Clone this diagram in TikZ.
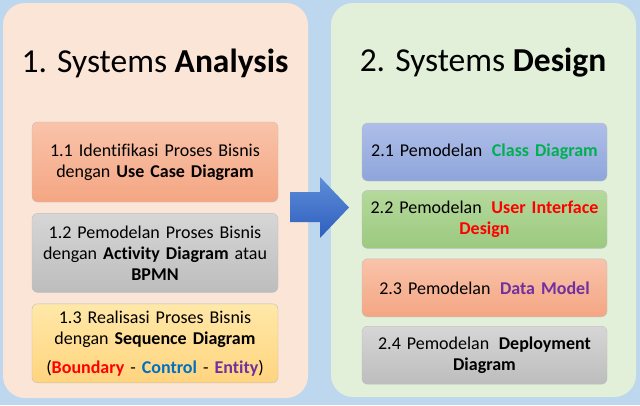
\documentclass[tikz,border=0pt]{standalone}
\usepackage{fontspec}
\setmainfont{Carlito}[Ligatures=NoCommon]
\usetikzlibrary{positioning}

\definecolor{skyback}{HTML}{BDD7EE}
\definecolor{peachpanel}{HTML}{FBE5D6}
\definecolor{mintpanel}{HTML}{E2F0D9}
\definecolor{salmontop}{HTML}{F9C3AA}
\definecolor{salmonbot}{HTML}{F4A683}
\definecolor{greytop}{HTML}{D6D6D6}
\definecolor{greybot}{HTML}{BDBDBD}
\definecolor{goldtop}{HTML}{FFE8A8}
\definecolor{goldbot}{HTML}{FFD47E}
\definecolor{bluetop}{HTML}{AEBEE8}
\definecolor{bluebot}{HTML}{8EA5DB}
\definecolor{greentop}{HTML}{B5D99C}
\definecolor{greenbot}{HTML}{9CC97F}
\definecolor{arrowtop}{HTML}{5E8DD8}
\definecolor{arrowbot}{HTML}{2E5EBE}
\definecolor{okgreen}{HTML}{00B050}
\definecolor{okred}{HTML}{FF0000}
\definecolor{okblue}{HTML}{0070C0}
\definecolor{okpurple}{HTML}{7030A0}

\tikzstyle{panel} = [rectangle, rounded corners=22pt, minimum width=305pt]
\tikzstyle{heading} = [font=\fontsize{33.5}{40}\selectfont]
\tikzstyle{block} = [draw=black!25, rectangle, rounded corners=0.2cm,
    minimum width=246pt, text width=240pt, inner sep=2pt, align=center,
    font=\fontsize{18}{21}\selectfont]

\begin{document}
\begin{tikzpicture}[x=1pt, y=-1pt, node distance=0pt]
    \useasboundingbox [fill=skyback] (0,0) rectangle (640,405);

    % the two phases
    \node [panel, fill=peachpanel, minimum height=395pt] (analysis) at (155.5,200.5) {};
    \node [panel, fill=mintpanel, minimum height=394pt] (design) at (483.5,200) {};
    \node [heading] (analysisttl) at (155,63) {1. Systems \textbf{Analysis}};
    \node [heading] (designttl) at (483,63) {2. Systems \textbf{Design}};

    % analysis steps
    \node [block, top color=salmontop, bottom color=salmonbot, minimum height=80pt] (lvl11) at (155,162)
        {1.1 Identifikasi Proses Bisnis\\dengan \textbf{Use Case Diagram}};
    \node [block, top color=greytop, bottom color=greybot, minimum height=79pt, below=11pt of lvl11] (lvl12)
        {1.2 Pemodelan Proses Bisnis\\dengan \textbf{Activity Diagram} atau\\\textbf{BPMN}};
    \node [block, top color=goldtop, bottom color=goldbot, minimum height=79pt, below=11pt of lvl12] (lvl13)
        {1.3 Realisasi Proses Bisnis\\dengan \textbf{Sequence Diagram}\\[8pt]
        (\textbf{\textcolor{okred}{Boundary}} - \textbf{\textcolor{okblue}{Control}} - \textbf{\textcolor{okpurple}{Entity}})};

    % design steps
    \node [block, top color=bluetop, bottom color=bluebot, minimum height=58pt, minimum width=245pt] (lvl21) at (484.5,152)
        {2.1 Pemodelan\hspace{0.2em} \textbf{\textcolor{okgreen}{Class Diagram}}};
    \node [block, top color=greentop, bottom color=greenbot, minimum height=58pt, minimum width=245pt, below=9pt of lvl21] (lvl22)
        {2.2 Pemodelan\hspace{0.2em} \textbf{\textcolor{okred}{User Interface\\Design}}};
    \node [block, top color=salmontop, bottom color=salmonbot, minimum height=58pt, minimum width=245pt, below=10pt of lvl22] (lvl23)
        {2.3 Pemodelan\hspace{0.2em} \textbf{\textcolor{okpurple}{Data Model}}};
    \node [block, top color=greytop, bottom color=greybot, minimum height=58pt, minimum width=245pt, below=9pt of lvl23] (lvl24)
        {2.4 Pemodelan\hspace{0.2em} \textbf{Deployment\\Diagram}};

    % big arrow between the phases
    \shade [top color=arrowtop, bottom color=arrowbot]
        (290,192) -- (320,192) -- (320,177) -- (349,207.5) -- (320,238) -- (320,222) -- (290,222) -- cycle;
\end{tikzpicture}
\end{document}
